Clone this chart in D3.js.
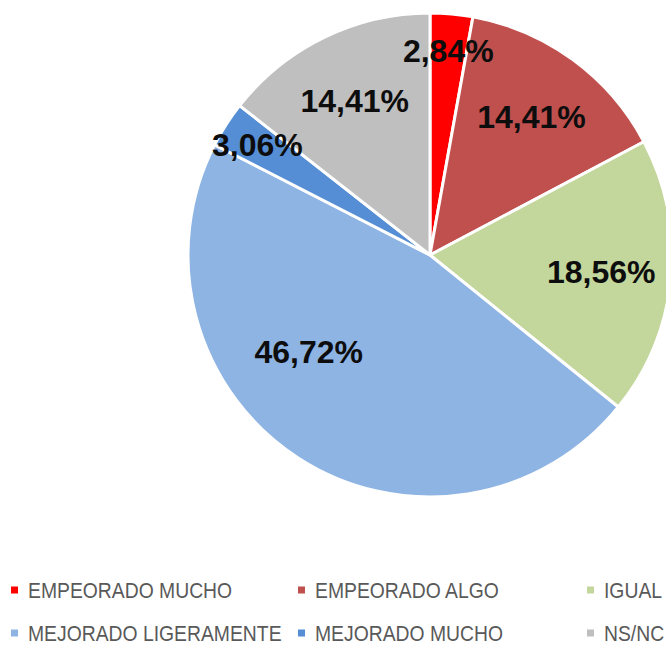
<!DOCTYPE html>
<html>
<head>
<meta charset="utf-8">
<script src="https://cdn.jsdelivr.net/npm/d3@7"></script>
<style>
  body { margin: 0; background: #fff; }
</style>
</head>
<body>
<div id="chart-area"></div>
<script>
// categories and values (percent)
var categories = ["EMPEORADO MUCHO", "EMPEORADO ALGO", "IGUAL",
                  "MEJORADO LIGERAMENTE", "MEJORADO MUCHO", "NS/NC"];
var values = [2.84, 14.41, 18.56, 46.72, 3.06, 14.41];
var labels = ["2,84%", "14,41%", "18,56%", "46,72%", "3,06%", "14,41%"];
var colors = ["#FF0000", "#C0504D", "#C3D69B", "#8EB4E3", "#558ED5", "#BFBFBF"];

var width = 666, height = 645;
var cx = 430, cy = 255, r = 242;

var svg = d3.select("#chart-area").append("svg")
    .attr("width", width)
    .attr("height", height);

var data = categories.map((c, i) => ({ name: c, value: values[i], label: labels[i], color: colors[i] }));

var pie = d3.pie()
    .sort(null)
    .value(d => d.value);

var arc = d3.arc()
    .innerRadius(0)
    .outerRadius(r);

var g = svg.append("g")
    .attr("transform", "translate(" + cx + "," + cy + ")");

var arcs = pie(data);

g.selectAll("path")
    .data(arcs)
    .enter()
    .append("path")
    .attr("d", arc)
    .attr("fill", d => d.data.color)
    .attr("stroke", "#fff")
    .attr("stroke-width", 3)
    .attr("stroke-linejoin", "round");

// label placement, roughly like excel's "best fit"
function labelPos(d) {
    var rr = 172;
    var a = (d.startAngle + d.endAngle) / 2;
    if (d.data.value < 5) rr = 205;
    if (d.data.value > 40) {
        rr = 155;
        a = d.startAngle + 0.61 * (d.endAngle - d.startAngle);
    }
    return [rr * Math.sin(a), -rr * Math.cos(a)];
}

g.selectAll("text")
    .data(arcs)
    .enter()
    .append("text")
    .attr("x", d => labelPos(d)[0])
    .attr("y", d => labelPos(d)[1])
    .attr("dy", "0.36em")
    .attr("text-anchor", "middle")
    .attr("font-family", "'Liberation Sans', Arial, sans-serif")
    .attr("font-weight", "bold")
    .attr("font-size", 32)
    .attr("fill", "#0d0d0d")
    .text(d => d.data.label);

// legend
var legend = svg.append("g");
var colX = [11, 298, 587];
var rowY = [590, 633];

var items = legend.selectAll("g")
    .data(data)
    .enter()
    .append("g")
    .attr("transform", (d, i) => "translate(" + colX[i % 3] + "," + rowY[Math.floor(i / 3)] + ")");

items.append("rect")
    .attr("x", 0)
    .attr("y", -3.5)
    .attr("width", 7)
    .attr("height", 7)
    .attr("fill", d => d.color);

items.append("text")
    .attr("transform", "translate(17,0) scale(0.86,1)")
    .attr("dy", "0.35em")
    .attr("font-family", "'Liberation Sans', Arial, sans-serif")
    .attr("font-size", 22.5)
    .attr("fill", "#595959")
    .text(d => d.name);
</script>
</body>
</html>
